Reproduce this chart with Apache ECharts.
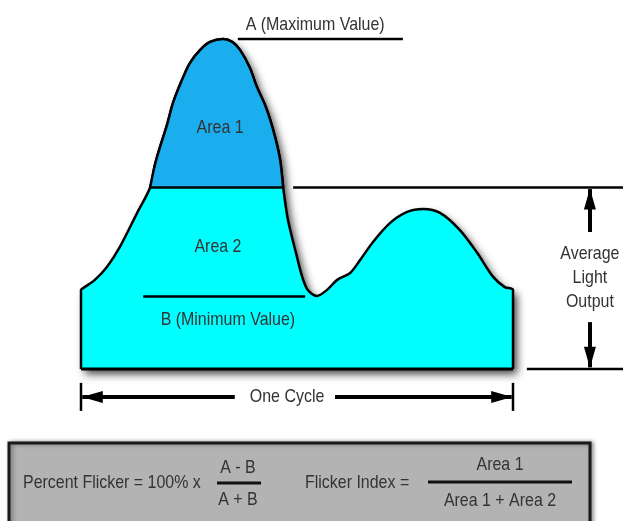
<!DOCTYPE html>
<html>
<head>
<meta charset="utf-8">
<title>Percent Flicker and Flicker Index</title>
<script src="https://cdn.jsdelivr.net/npm/echarts@6/dist/echarts.min.js"></script>
<style>
  html, body { margin: 0; padding: 0; background: #fff; }
  #chart { width: 623px; height: 521px; }
</style>
</head>
<body>
<div id="chart"></div>
<script>
// One cycle of light output: x = percent of the cycle, y = light level (peak = 100)
const cycleX = [0, 0, 0.5, 3.2, 6.0, 9.0, 13.0, 16.0, 17.1, 18.3, 19.9, 21.3, 23.2, 25.2, 27.6, 29.9,
    32.9, 35.0, 36.8, 39.1, 40.7, 42.6, 43.8, 45.1, 46.1, 46.8, 47.9, 50.0, 51.2, 52.5, 54.6, 56.9,
    59.3, 62.3, 64.6, 67.6, 71.5, 75.5, 79.2, 83.1, 87.7, 91.7, 95.4, 98.1, 100, 100];
const lightY = [0, 23.9, 24.5, 27.0, 30.9, 37.0, 47.3, 55, 61.8, 67.3, 73.9, 80.6, 87.0, 92.7, 96.7, 99.1,
    100, 99.1, 96.7, 91.2, 85.5, 80.0, 75.5, 69.4, 63.3, 55, 45.2, 33.9, 27.9, 23.9, 22.1, 23.9,
    27.0, 29.1, 33.0, 38.5, 44.2, 47.6, 48.5, 47.3, 42.1, 35.2, 27.9, 24.8, 23.9, 0];

// Reference levels
const maxA = 100;
const minB = 22;
const average = 55;

// Extent of the annotation lines (same units as the curve)
const maxLineX = [36.3, 74.5];
const minLineX = [14.4, 51.9];
const avgInnerX = [16.0, 46.8];
const avgOuterX = [49.1, 125.5];
const zeroOuterX = [103.2, 125.5];
const arrowX = 117.8;
const upArrowY = [41.5, 54.5];
const downArrowY = [14.2, 0.5];
const cycleY = -8.5;
const cycleLeftX = [35.6, 0.3];
const cycleRightX = [58.8, 99.7];
const cycleTickY = [-4.2, -12.7];

// Labels placed in the same units
const labelText = ['A (Maximum Value)', 'Area 1', 'Area 2', 'B (Minimum Value)', 'Average', 'Light', 'Output', 'One Cycle'];
const labelX = [54.2, 32.2, 31.7, 34.0, 117.8, 117.8, 117.8, 47.7];
const labelY = [104.3, 73.0, 37.0, 14.8, 35.0, 27.6, 20.3, -8.5];

// Visible range of the whole drawing, in the same units
const xRange = [-18.75, 125.46];
const yRange = [-46.06, 111.8];

const FONT = '"Liberation Sans", Arial, sans-serif';
const TEXT_COLOR = '#333';

const chart = echarts.init(document.getElementById('chart'));

const curve = cycleX.map((x, i) => [x, lightY[i]]);
const peak = curve.filter(p => p[1] >= average && p[0] > 0 && p[0] < 100);

// Plain black segment as its own series
function segment(name, x, y, width) {
    return {
        name: name,
        type: 'line',
        data: [[x[0], y[0]], [x[1], y[1]]],
        symbol: 'none',
        silent: true,
        z: 4,
        lineStyle: { color: '#000', width: width || 2.5 }
    };
}

// Narrow text (condensed look of the original lettering)
function narrowText(text, x, y, align) {
    return {
        type: 'text', x: x, y: y, z: 10, scaleX: 0.84, scaleY: 1,
        style: { text: text, font: '19px ' + FONT, fill: TEXT_COLOR, align: align || 'center', verticalAlign: 'middle' }
    };
}

const arrowHead = { symbol: 'triangle', symbolSize: [12, 21], symbolOffset: [0, 10] };

const option = {
    animation: false,
    backgroundColor: '#fff',
    grid: { left: 0, right: 0, top: 0, bottom: 0 },
    xAxis: { type: 'value', min: xRange[0], max: xRange[1], show: false },
    yAxis: { type: 'value', min: yRange[0], max: yRange[1], show: false },
    series: [
        {
            name: 'Light Output',
            type: 'line',
            data: curve,
            symbol: 'none',
            smooth: 0.3,
            z: 2,
            lineStyle: { color: '#000', width: 2.5 },
            areaStyle: {
                color: '#00FFFF',
                opacity: 1,
                origin: 0,
                shadowColor: 'rgba(0,0,0,0.75)',
                shadowBlur: 9,
                shadowOffsetX: 4,
                shadowOffsetY: 5
            }
        },
        segment('Baseline', [0, 100], [0, 0], 3),
        {
            name: 'Area 1',
            type: 'line',
            data: peak,
            symbol: 'none',
            smooth: 0.3,
            z: 3,
            lineStyle: { color: '#000', width: 2.5 },
            areaStyle: { color: '#1AAEEF', opacity: 1, origin: average }
        },
        segment('A line', maxLineX, [maxA, maxA]),
        segment('B line', minLineX, [minB, minB]),
        segment('Average inner', avgInnerX, [average, average]),
        segment('Average outer', avgOuterX, [average, average]),
        segment('Zero outer', zeroOuterX, [0, 0]),
        segment('Cycle tick left', [0, 0], cycleTickY),
        segment('Cycle tick right', [100, 100], cycleTickY),
        {
            name: 'Arrows',
            type: 'line',
            data: [],
            markLine: {
                silent: true,
                animation: false,
                symbol: ['none', 'none'],
                label: { show: false },
                lineStyle: { color: '#000', width: 4, type: 'solid' },
                data: [
                    [{ coord: [arrowX, upArrowY[0]] }, Object.assign({ coord: [arrowX, upArrowY[1]] }, arrowHead)],
                    [{ coord: [arrowX, downArrowY[0]] }, Object.assign({ coord: [arrowX, downArrowY[1]] }, arrowHead)],
                    [{ coord: [cycleLeftX[0], cycleY] }, Object.assign({ coord: [cycleLeftX[1], cycleY] }, arrowHead)],
                    [{ coord: [cycleRightX[0], cycleY] }, Object.assign({ coord: [cycleRightX[1], cycleY] }, arrowHead)]
                ]
            }
        }
    ]
};

chart.setOption(option);

// Labels and the formula box
const labels = labelText.map((t, i) => {
    const p = chart.convertToPixel('grid', [labelX[i], labelY[i]]);
    return narrowText(t, p[0], p[1], 'center');
});

chart.setOption({
    graphic: [
        {
            type: 'rect',
            shape: { x: 9, y: 443, width: 581, height: 95 },
            style: {
                fill: '#B3B3B3', stroke: '#1a1a1a', lineWidth: 3,
                shadowColor: 'rgba(0,0,0,0.4)', shadowBlur: 4, shadowOffsetX: 2, shadowOffsetY: 0
            },
            z: 1
        },
        narrowText('Percent Flicker = 100% x', 23, 483, 'left'),
        narrowText('A - B', 238, 468),
        { type: 'line', z: 2, shape: { x1: 217, y1: 483, x2: 261, y2: 483 }, style: { stroke: '#111', lineWidth: 3 } },
        narrowText('A + B', 238, 500),
        narrowText('Flicker Index =', 305, 483, 'left'),
        narrowText('Area 1', 500, 465),
        { type: 'line', z: 2, shape: { x1: 428, y1: 482, x2: 572, y2: 482 }, style: { stroke: '#111', lineWidth: 3 } },
        narrowText('Area 1 + Area 2', 500, 501)
    ].concat(labels)
});
</script>
</body>
</html>
